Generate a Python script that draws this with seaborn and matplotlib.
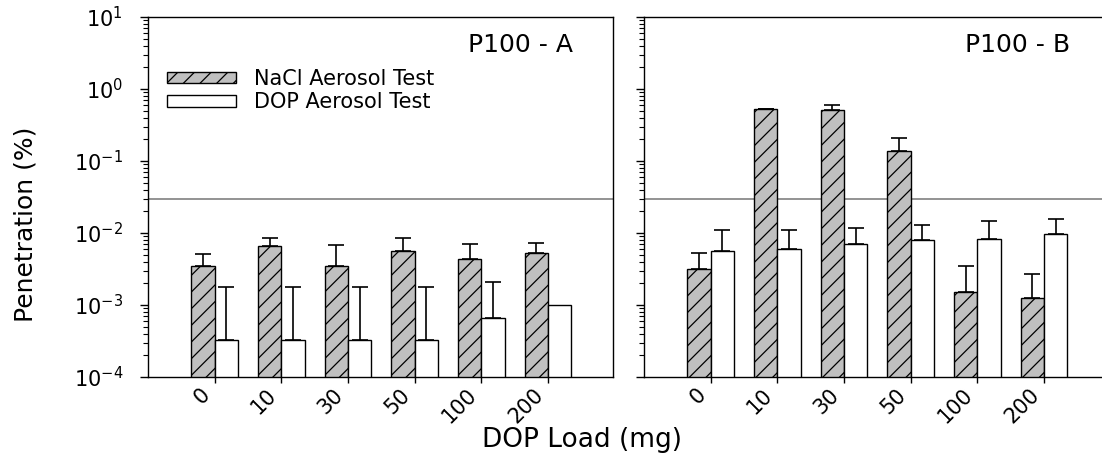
import numpy as np
import pandas as pd
import matplotlib
matplotlib.use("Agg")
import matplotlib.pyplot as plt
from matplotlib.patches import Patch
from matplotlib.ticker import LogLocator, NullFormatter
from matplotlib.transforms import ScaledTranslation
import seaborn as sns

# ---------------- data ----------------
loads = ["0", "10", "30", "50", "100", "200"]
tests = ["NaCl Aerosol Test", "DOP Aerosol Test"]
panels = ["P100 - A", "P100 - B"]

nacl_a = [0.0035, 0.0065, 0.0035, 0.0057, 0.0043, 0.0052]
nacl_a_up = [0.0051, 0.0086, 0.0068, 0.0084, 0.0070, 0.0073]
dop_a = [0.00033, 0.00033, 0.00033, 0.00033, 0.00067, 0.0010]
dop_a_up = [0.0018, 0.0018, 0.0018, 0.0018, 0.0021, np.nan]

nacl_b = [0.0032, 0.52, 0.51, 0.136, 0.0015, 0.00125]
nacl_b_up = [0.0052, 0.53, 0.59, 0.21, 0.0035, 0.0027]
dop_b = [0.0057, 0.0060, 0.0070, 0.0080, 0.0083, 0.0096]
dop_b_up = [0.0109, 0.0109, 0.0119, 0.0128, 0.0145, 0.0158]

limit_line = 0.03

# ---------------- style ----------------
sns.set_style("ticks")
plt.rcParams["font.family"] = ["DejaVu Sans"]
plt.rcParams["mathtext.fontset"] = "dejavusans"
plt.rcParams["hatch.color"] = "black"
plt.rcParams["hatch.linewidth"] = 0.9
plt.rcParams["axes.edgecolor"] = "black"
plt.rcParams["xtick.color"] = "black"
plt.rcParams["ytick.color"] = "black"
plt.rcParams["text.color"] = "black"
plt.rcParams["axes.labelcolor"] = "black"
plt.rcParams["xtick.labelcolor"] = "black"
plt.rcParams["ytick.labelcolor"] = "black"
plt.rcParams["axes.linewidth"] = 1.0

W, H = 1102, 466
fig = plt.figure(figsize=(W / 100, H / 100), dpi=100)


def px_axes(x0, x1, y0, y1):
    return fig.add_axes([x0 / W, 1 - y1 / H, (x1 - x0) / W, (y1 - y0) / H])


axA = px_axes(148, 613, 17, 377)
axB = px_axes(644, 1102, 17, 377)

data = {
    panels[0]: (nacl_a, nacl_a_up, dop_a, dop_a_up),
    panels[1]: (nacl_b, nacl_b_up, dop_b, dop_b_up),
}
palette = {tests[0]: "#c0c0c0", tests[1]: "white"}
label_shift = ScaledTranslation(-15 / 100, 2 / 100, fig.dpi_scale_trans)

for ax, panel, xmax, tx in zip([axA, axB], panels, [5.975, 5.87], [0.914, 0.930]):
    nacl, nacl_up, dop, dop_up = data[panel]
    df = pd.DataFrame({
        "load": loads * 2,
        "test": [tests[0]] * len(loads) + [tests[1]] * len(loads),
        "pen": list(nacl) + list(dop),
    })
    sns.barplot(data=df, x="load", y="pen", hue="test", order=loads,
                hue_order=tests, palette=palette, saturation=1, width=0.7,
                errorbar=None, edgecolor="black", linewidth=1.0,
                legend=False, ax=ax, zorder=2)
    ax.set_yscale("log")
    conts = list(ax.containers[:2])
    for p in conts[0]:
        p.set_hatch("//")
    for cont, vals, ups in zip(conts, [nacl, dop], [nacl_up, dop_up]):
        xs = np.array([p.get_x() + p.get_width() / 2 for p in cont])
        vals = np.asarray(vals, dtype=float)
        ups = np.asarray(ups, dtype=float)
        m = ~np.isnan(ups)
        ax.errorbar(xs[m], vals[m], yerr=[np.zeros(m.sum()), ups[m] - vals[m]],
                    fmt="none", ecolor="black", elinewidth=1.2, capsize=6,
                    capthick=1.2, zorder=3)
    ax.axhline(limit_line, color="#808080", lw=1.2, zorder=1)
    ax.set_ylim(1e-4, 10)
    ax.set_xlim(-1, xmax)
    ax.yaxis.set_major_locator(LogLocator(base=10, numticks=10))
    ax.yaxis.set_minor_locator(LogLocator(base=10, subs=np.arange(2, 10), numticks=10))
    ax.yaxis.set_minor_formatter(NullFormatter())
    ax.tick_params(axis="y", which="major", direction="out", length=6, width=1,
                   labelsize=15, pad=12)
    ax.tick_params(axis="y", which="minor", direction="out", length=3.5, width=0.8)
    ax.tick_params(axis="x", direction="out", length=4, width=1, labelsize=15, pad=3)
    for lbl in ax.get_xticklabels():
        lbl.set_rotation(45)
        lbl.set_ha("right")
        lbl.set_va("top")
        lbl.set_rotation_mode("anchor")
        lbl.set_transform(lbl.get_transform() + label_shift)
    ax.set_xlabel("")
    ax.set_ylabel("")
    ax.text(tx, 0.922, panel, transform=ax.transAxes, ha="right", va="center",
            fontsize=18)

axB.tick_params(axis="y", which="both", labelleft=False)
axB.spines["right"].set_visible(False)

handles = [Patch(facecolor="#c0c0c0", edgecolor="black", hatch="//", lw=1),
           Patch(facecolor="white", edgecolor="black", lw=1)]
axA.legend(handles, tests, loc="upper left", bbox_to_anchor=(0.040, 0.855),
           frameon=False, fontsize=15, handlelength=3.35, handleheight=0.45,
           handletextpad=0.85, labelspacing=0.15, borderpad=0, borderaxespad=0)

fig.text(26 / W, 1 - 224 / H, "Penetration (%)", rotation=90, ha="center",
         va="center", fontsize=18)
fig.text(582.5 / W, 1 - 447 / H, "DOP Load (mg)", ha="center", va="baseline",
         fontsize=19)

fig.savefig("out.png", dpi=100)
